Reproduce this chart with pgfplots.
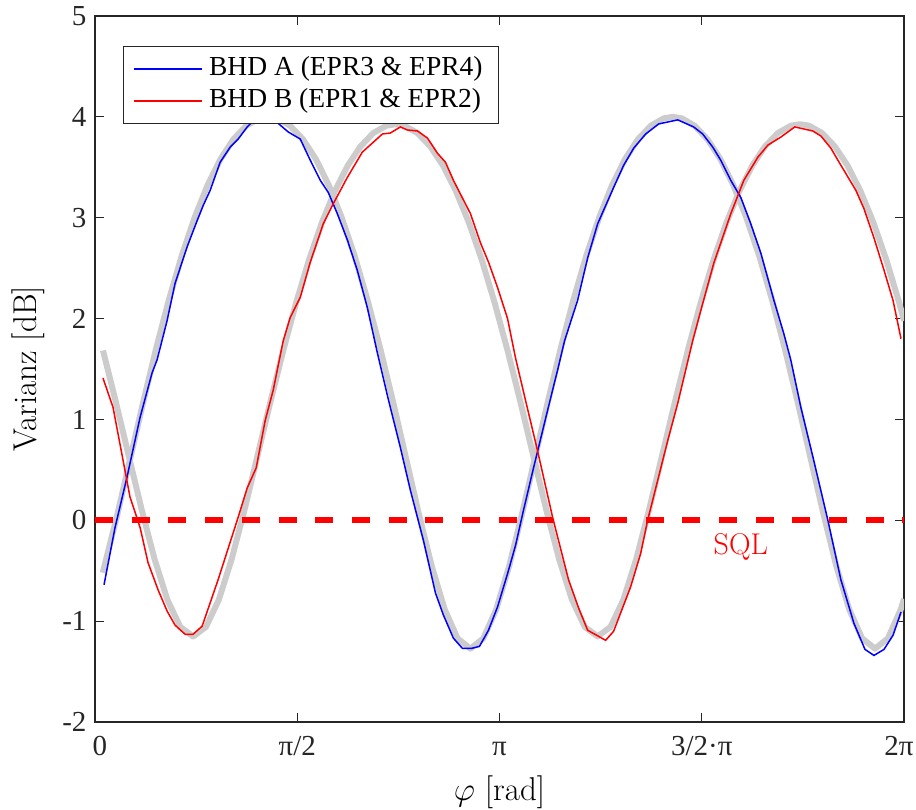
\RequirePackage{fix-cm}
\documentclass[border=0pt]{standalone}
\usepackage{fontspec}
\newfontfamily\timesfont{Liberation Serif}
\usepackage{pgfplots}
\pgfplotsset{compat=1.18}
\definecolor{axgray}{rgb}{0.15,0.15,0.15}
\definecolor{fitgray}{rgb}{0.8,0.8,0.8}
\definecolor{bhdblue}{rgb}{0,0,1}
\definecolor{bhdred}{rgb}{1,0,0}
\begin{document}
\begin{tikzpicture}
\useasboundingbox (-95pt,-87pt) rectangle (821pt,722pt);
\begin{axis}[
  at={(0pt,0pt)}, anchor=south west,
  width=809pt, height=706pt, scale only axis,
  xmin=0, xmax=6.2832, ymin=-2, ymax=5,
  xtick={0,1.5708,3.1416,4.7124,6.2832},
  xticklabels={\hspace*{10pt}0,π/2,π,3/2·π,2π\hspace*{10pt}},
  ytick={-2,-1,0,1,2,3,4,5},
  yticklabels={-2,-1,0,1,2,3,4,5},
  tick align=inside, major tick length=9pt,
  tick style={color=axgray, line width=1pt},
  axis line style={color=axgray, line width=1.2pt},
  ticklabel style={font=\timesfont\fontsize{29}{29}\selectfont, text=axgray},
  xticklabel style={anchor=north, text height=21pt, text depth=6pt, yshift=-9pt},
  yticklabel style={xshift=-5pt},
  xlabel={$\varphi$ [rad]}, ylabel={Varianz [dB]},
  label style={font=\fontsize{33}{33}\selectfont},
  xlabel style={at={(axis description cs:0.5,-0.1105)}, anchor=base},
  ylabel style={at={(axis description cs:-0.0717,0.5)}, anchor=base},
  legend style={at={(0.0346,0.9575)}, anchor=north west, draw=axgray, line width=1pt, fill=white,
    font=\timesfont\fontsize{27.5}{33}\selectfont, inner xsep=10pt, inner ysep=7pt, row sep=0pt,
    nodes={inner xsep=6pt, inner ysep=3pt, text height=19pt, text depth=6.5pt}},
  legend cell align=left,
]
\addlegendimage{legend image code/.code={\draw[draw=bhdblue, color=bhdblue, line width=1.6pt] (0pt,0pt) -- (68pt,0pt);}}
\addlegendentry{BHD A (EPR3 \& EPR4)}
\addlegendimage{legend image code/.code={\draw[draw=bhdred, color=bhdred, line width=1.6pt] (0pt,0pt) -- (68pt,0pt);}}
\addlegendentry{BHD B (EPR1 \& EPR2)}
% fits (gray)
\addplot[fitgray, line width=6pt, line join=round, forget plot] table {
0.060 -0.52
0.174 0.059
0.274 0.614
0.374 1.169
0.474 1.700
0.574 2.187
0.674 2.624
0.774 3.003
0.874 3.322
0.974 3.580
1.074 3.776
1.174 3.911
1.274 3.985
1.345 4.000
1.416 3.985
1.516 3.911
1.616 3.776
1.716 3.580
1.816 3.322
1.916 3.003
2.016 2.624
2.116 2.187
2.216 1.700
2.316 1.169
2.416 0.614
2.516 0.059
2.616 -0.457
2.716 -0.884
2.816 -1.171
2.916 -1.273
3.016 -1.171
3.116 -0.884
3.216 -0.457
3.316 0.059
3.416 0.614
3.516 1.169
3.616 1.700
3.716 2.187
3.816 2.624
3.916 3.003
4.016 3.322
4.116 3.580
4.216 3.776
4.316 3.911
4.416 3.985
4.487 4.000
4.558 3.985
4.658 3.911
4.758 3.776
4.858 3.580
4.958 3.322
5.058 3.003
5.158 2.624
5.258 2.187
5.358 1.700
5.458 1.169
5.558 0.614
5.658 0.059
5.758 -0.457
5.858 -0.884
5.958 -1.171
6.058 -1.273
6.158 -1.171
6.258 -0.884
6.283 -0.78
};
\addplot[fitgray, line width=6pt, line join=round, forget plot] table {
0.062 1.684
0.162 1.173
0.262 0.639
0.362 0.108
0.462 -0.383
0.562 -0.787
0.662 -1.057
0.762 -1.152
0.862 -1.057
0.962 -0.787
1.062 -0.383
1.162 0.108
1.262 0.639
1.362 1.173
1.462 1.684
1.562 2.157
1.662 2.582
1.762 2.951
1.862 3.262
1.962 3.515
2.062 3.707
2.162 3.840
2.262 3.912
2.333 3.927
2.404 3.912
2.504 3.840
2.604 3.707
2.704 3.515
2.804 3.262
2.904 2.951
3.004 2.582
3.104 2.157
3.204 1.684
3.304 1.173
3.404 0.639
3.504 0.108
3.604 -0.383
3.704 -0.787
3.804 -1.057
3.904 -1.152
4.004 -1.057
4.104 -0.787
4.204 -0.383
4.304 0.108
4.404 0.639
4.504 1.173
4.604 1.684
4.704 2.157
4.804 2.582
4.904 2.951
5.004 3.262
5.104 3.515
5.204 3.707
5.304 3.840
5.404 3.912
5.475 3.927
5.546 3.912
5.646 3.840
5.746 3.707
5.846 3.515
5.946 3.262
6.046 2.951
6.146 2.582
6.246 2.157
6.283 1.977
};
% measured BHD A
\addplot[draw=bhdblue, line width=1.5pt, forget plot] table {
0.070 -0.64
0.156 -0.07
0.249 0.43
0.350 1.02
0.443 1.46
0.482 1.59
0.560 1.98
0.622 2.35
0.715 2.71
0.793 2.97
0.840 3.12
0.894 3.27
0.972 3.55
1.050 3.70
1.112 3.78
1.182 3.90
1.229 3.96
1.314 3.97
1.400 3.96
1.501 3.85
1.594 3.78
1.672 3.57
1.750 3.37
1.812 3.25
1.882 3.04
1.960 2.78
2.037 2.48
2.115 2.11
2.193 1.66
2.278 1.20
2.372 0.72
2.449 0.30
2.551 -0.20
2.644 -0.72
2.706 -0.94
2.784 -1.17
2.854 -1.27
2.924 -1.27
2.986 -1.25
3.056 -1.09
3.126 -0.86
3.204 -0.53
3.266 -0.25
3.328 0.10
3.406 0.52
3.515 1.09
3.593 1.49
3.647 1.78
3.748 2.18
3.826 2.60
3.904 2.94
4.028 3.30
4.106 3.52
4.184 3.69
4.277 3.83
4.378 3.93
4.526 3.97
4.650 3.90
4.720 3.83
4.798 3.70
4.860 3.57
4.938 3.37
5.016 3.20
5.093 2.94
5.171 2.65
5.273 2.18
5.350 1.85
5.404 1.59
5.482 1.12
5.583 0.59
5.692 0.00
5.793 -0.59
5.894 -1.02
5.980 -1.28
6.050 -1.34
6.128 -1.28
6.198 -1.14
6.260 -0.91
};
% measured BHD B
\addplot[draw=bhdred, line width=1.5pt, forget plot] table {
0.062 1.41
0.140 1.12
0.272 0.23
0.350 -0.07
0.412 -0.42
0.490 -0.69
0.560 -0.90
0.622 -1.04
0.700 -1.13
0.762 -1.13
0.832 -1.05
0.956 -0.59
1.112 0.03
1.182 0.32
1.252 0.52
1.322 0.99
1.384 1.29
1.462 1.78
1.516 2.01
1.594 2.21
1.672 2.56
1.773 2.94
1.851 3.14
1.960 3.40
2.076 3.65
2.232 3.83
2.294 3.84
2.372 3.90
2.426 3.87
2.504 3.86
2.582 3.79
2.659 3.64
2.722 3.55
2.784 3.37
2.916 3.04
2.994 2.75
3.056 2.56
3.126 2.31
3.204 2.00
3.266 1.61
3.351 1.15
3.437 0.69
3.554 0.03
3.678 -0.59
3.756 -0.87
3.826 -1.09
3.966 -1.19
4.028 -1.10
4.160 -0.66
4.238 -0.33
4.292 0.00
4.448 0.79
4.526 1.16
4.642 1.78
4.705 2.08
4.806 2.55
4.938 3.04
5.039 3.37
5.148 3.60
5.226 3.72
5.327 3.80
5.435 3.90
5.575 3.86
5.638 3.81
5.715 3.69
5.770 3.57
5.910 3.27
5.972 3.09
6.050 2.80
6.128 2.48
6.198 2.18
6.260 1.80
};
% SQL
\addplot[draw=bhdred, line width=6pt, dash pattern=on 18pt off 18.7pt, forget plot] coordinates {(0,0) (6.2832,0)};
\node[text=bhdred, font=\fontsize{30}{30}\selectfont] at (axis cs:5.016,-0.26) {SQL};
\end{axis}
\end{tikzpicture}
\end{document}
